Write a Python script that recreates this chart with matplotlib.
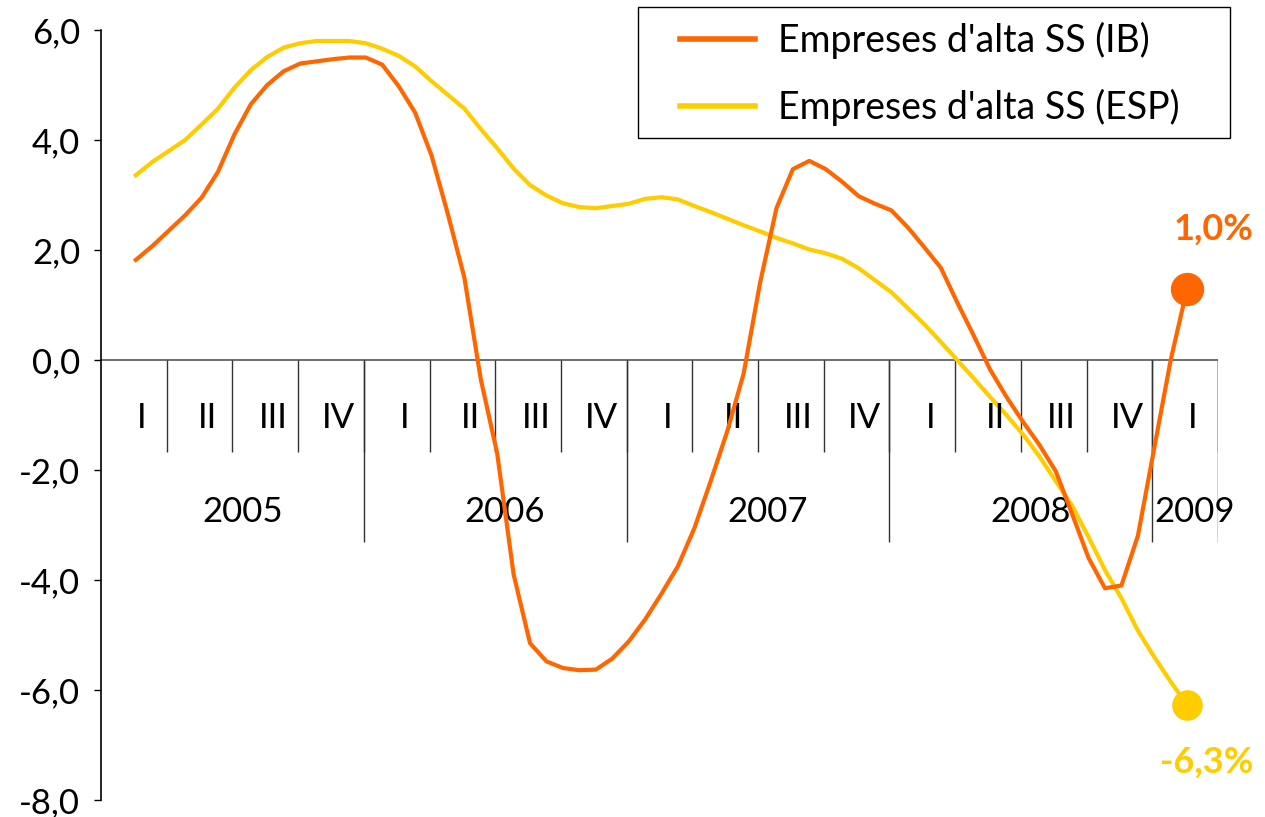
import matplotlib
matplotlib.use("Agg")
import matplotlib.pyplot as plt
from matplotlib.patches import Rectangle
import numpy as np

plt.rcParams["font.family"] = ["Lato", "DejaVu Sans"]

# --- data (~4 readings per quarter, 2005-I .. 2009-I) ---
ib = [1.82, 2.07, 2.35, 2.63, 2.95, 3.42, 4.10, 4.65, 5.00, 5.25, 5.39, 5.43, 5.47,
      5.50, 5.50, 5.37, 4.98, 4.50, 3.72, 2.65, 1.50, -0.35, -1.70, -3.90, -5.15,
      -5.48, -5.60, -5.64, -5.63, -5.43, -5.12, -4.72, -4.25, -3.75, -3.06, -2.20,
      -1.30, -0.25, 1.40, 2.76, 3.47, 3.62, 3.47, 3.24, 2.98, 2.84, 2.72, 2.41,
      2.05, 1.68, 1.05, 0.45, -0.17, -0.67, -1.12, -1.54, -2.02, -2.80, -3.60,
      -4.15, -4.10, -3.20, -1.60, 0.00, 1.30]
esp = [3.36, 3.60, 3.80, 4.00, 4.28, 4.57, 4.95, 5.27, 5.51, 5.68, 5.76, 5.80, 5.80,
       5.80, 5.76, 5.66, 5.53, 5.34, 5.07, 4.82, 4.57, 4.20, 3.85, 3.48, 3.18, 2.99,
       2.85, 2.78, 2.76, 2.80, 2.84, 2.93, 2.96, 2.92, 2.80, 2.69, 2.57, 2.45, 2.34,
       2.22, 2.12, 2.01, 1.94, 1.84, 1.67, 1.45, 1.23, 0.94, 0.65, 0.33, 0.00, -0.33,
       -0.67, -1.00, -1.35, -1.75, -2.20, -2.65, -3.22, -3.82, -4.33, -4.92, -5.40,
       -5.85, -6.27]
quarters = ["I", "II", "III", "IV"] * 4 + ["I"]
years = ["2005", "2006", "2007", "2008", "2009"]
year_len = [4, 4, 4, 4, 1]
yticks = [6, 4, 2, 0, -2, -4, -6, -8]
ytick_labels = ["6,0", "4,0", "2,0", "0,0", "-2,0", "-4,0", "-6,0", "-8,0"]
labels = ["Empreses d'alta SS (IB)", "Empreses d'alta SS (ESP)"]
end_labels = ["1,0%", "-6,3%"]

ORANGE = "#FF6600"
YELLOW = "#FFCC00"
FS = 25
W, H = 1265, 817

fig = plt.figure(figsize=(W / 100, H / 100), dpi=100)
ax = fig.add_axes([101 / W, 1 - 800 / H, (1218 - 101) / W, 770 / H])

x = 0.53 + 0.25 * np.arange(len(ib))
ax.plot(x, ib, color=ORANGE, lw=3, label=labels[0], solid_joinstyle="round", zorder=4)
ax.plot(x, esp, color=YELLOW, lw=3, label=labels[1], solid_joinstyle="round", zorder=3)
ax.plot(x[-1], ib[-1], "o", color=ORANGE, ms=23, zorder=5)
ax.plot(x[-1], esp[-1], "o", color=YELLOW, ms=21, zorder=5)
ax.text(x[-1] + 0.4, ib[-1] + 1.07, end_labels[0], color=ORANGE, fontsize=FS + 1,
        fontweight="bold", ha="center", va="center")
ax.text(x[-1] + 0.3, esp[-1] - 1.05, end_labels[1], color=YELLOW, fontsize=FS + 1,
        fontweight="bold", ha="center", va="center")

# category axis drawn at y = 0
nq = len(quarters)
ax.plot([0, nq], [0, 0], color="#555555", lw=1.2, zorder=2)
ax.vlines(np.arange(1, nq + 1), -1.67, 0, color="#333333", lw=1)
for i, q in enumerate(quarters):
    ax.text(i + 0.62, -1.05, q, fontsize=FS, ha="center", va="center")
start = 0
for yr, n in zip(years, year_len):
    ax.vlines(start + n, -3.31, 0, color="#333333", lw=1)
    ax.text(start + n / 2 + 0.15, -2.76, yr, fontsize=FS, ha="center", va="center")
    start += n

ax.set_xlim(0, nq)
ax.set_ylim(-8, 6)
ax.set_xticks([])
ax.set_yticks(yticks)
ax.set_yticklabels(ytick_labels, fontsize=FS)
ax.tick_params(axis="y", direction="out", length=5, width=1, pad=10)
for s in ("top", "right", "bottom"):
    ax.spines[s].set_visible(False)
ax.spines["left"].set_linewidth(1.2)

# legend: entries without frame, box drawn separately to match the wide frame
fig.patches.append(Rectangle((638 / W, 1 - 138 / H), (1230 - 638) / W, 131 / H,
                             transform=fig.transFigure, fill=False,
                             edgecolor="black", lw=1))
leg = ax.legend(loc="upper left", bbox_to_anchor=(680 / W, 1 - 22 / H),
                bbox_transform=fig.transFigure, borderaxespad=0, borderpad=0,
                fontsize=FS + 2, frameon=False, handlelength=2.0,
                handletextpad=0.6, labelspacing=0.8)
for h in leg.get_lines():
    h.set_linewidth(4)

fig.savefig("out.png", dpi=100)
